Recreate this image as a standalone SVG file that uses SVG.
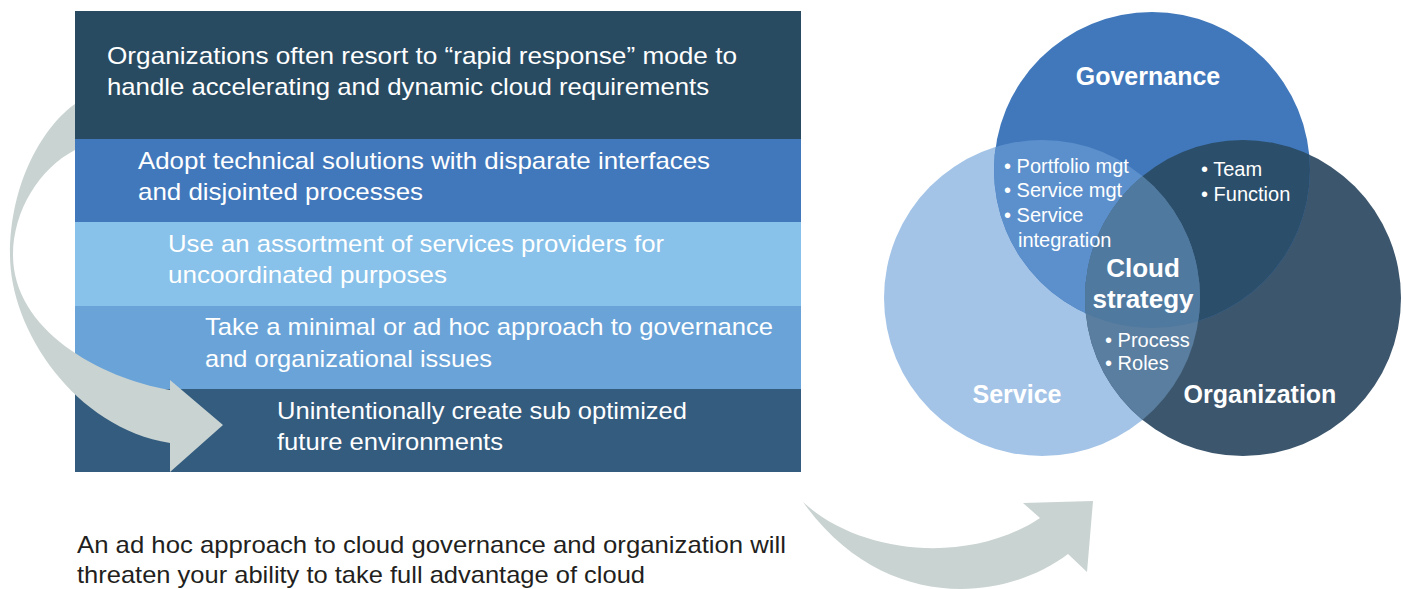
<svg xmlns="http://www.w3.org/2000/svg" width="1403" height="589" viewBox="0 0 1403 589">
<style>
.bt{font-family:"Liberation Sans",Arial,sans-serif;font-size:24px;fill:#ffffff}
.ft{font-family:"Liberation Sans",Arial,sans-serif;font-size:24px;fill:#231f20}
.vl{font-family:"Liberation Sans",Arial,sans-serif;font-size:25px;font-weight:bold;fill:#ffffff}
.cs{font-size:26px}
.vb{font-family:"Liberation Sans",Arial,sans-serif;font-size:20px;fill:#ffffff}
.arr{fill:#c9d3d1}
</style>
<defs>
<clipPath id="cGov"><circle cx="1152" cy="170" r="158"/></clipPath>
<clipPath id="cSer"><circle cx="1042" cy="298" r="158"/></clipPath>
<clipPath id="cOrg"><circle cx="1243" cy="298" r="158"/></clipPath>
</defs>

<g id="box">
<rect x="75" y="11" width="726" height="128" fill="#284b62"/>
<rect x="75" y="139" width="726" height="83" fill="#4178bb"/>
<rect x="75" y="222" width="726" height="84" fill="#88c1e9"/>
<rect x="75" y="306" width="726" height="83" fill="#69a3d8"/>
<rect x="75" y="389" width="726" height="83" fill="#335c7f"/>
</g>
<g id="band1"><text class="bt" x="107" y="64" textLength="630" lengthAdjust="spacingAndGlyphs">Organizations often resort to “rapid response” mode to</text>
<text class="bt" x="107" y="95" textLength="602" lengthAdjust="spacingAndGlyphs">handle accelerating and dynamic cloud requirements</text></g>
<g id="band2"><text class="bt" x="138" y="169" textLength="572" lengthAdjust="spacingAndGlyphs">Adopt technical solutions with disparate interfaces</text>
<text class="bt" x="138" y="200" textLength="285" lengthAdjust="spacingAndGlyphs">and disjointed processes</text></g>
<g id="band3"><text class="bt" x="168" y="252" textLength="496" lengthAdjust="spacingAndGlyphs">Use an assortment of services providers for</text>
<text class="bt" x="168" y="283" textLength="279" lengthAdjust="spacingAndGlyphs">uncoordinated purposes</text></g>
<g id="band4"><text class="bt" x="205" y="335" textLength="568" lengthAdjust="spacingAndGlyphs">Take a minimal or ad hoc approach to governance</text>
<text class="bt" x="205" y="367" textLength="287" lengthAdjust="spacingAndGlyphs">and organizational issues</text></g>
<g id="band5"><text class="bt" x="277" y="419" textLength="410" lengthAdjust="spacingAndGlyphs">Unintentionally create sub optimized</text>
<text class="bt" x="277" y="450" textLength="226" lengthAdjust="spacingAndGlyphs">future environments</text></g>

<g id="connectors">
<path class="arr" d="M 75 104 C 45 125, 10 180, 10 255 C 10 330, 75 428, 170 443 L 170 472 L 223 425 L 170 380 L 170 390 C 100 378, 13 330, 13 255 C 13 210, 40 168, 75 150 Z"/>
<path class="arr" d="M 803 502 C 860 555, 970 565, 1040 518 L 1023 503 L 1093 501 L 1087 572 L 1068 554 C 1000 605, 880 610, 803 502 Z"/>
</g>

<g id="note">
<text class="ft" x="77" y="553" textLength="709" lengthAdjust="spacingAndGlyphs">An ad hoc approach to cloud governance and organization will</text>
<text class="ft" x="77" y="583" textLength="568" lengthAdjust="spacingAndGlyphs">threaten your ability to take full advantage of cloud</text>
</g>

<g id="venn">
<circle id="service" cx="1042" cy="298" r="158" fill="#a4c4e7"/>
<circle id="organization" cx="1243" cy="298" r="158" fill="#3c566d"/>
<circle id="governance" cx="1152" cy="170" r="158" fill="#4178bb"/>
<g clip-path="url(#cGov)"><circle cx="1042" cy="298" r="158" fill="#5c90cc"/></g>
<g clip-path="url(#cGov)"><circle cx="1243" cy="298" r="158" fill="#2b4e6a"/></g>
<g clip-path="url(#cSer)"><circle cx="1243" cy="298" r="158" fill="#5a7e9f"/></g>
<g clip-path="url(#cSer)"><g clip-path="url(#cOrg)"><circle cx="1152" cy="170" r="158" fill="#4f799f"/></g></g>
</g>

<g id="labels">
<text class="vl" x="1148" y="85" text-anchor="middle">Governance</text>
<text class="vl" x="1017" y="403" text-anchor="middle">Service</text>
<text class="vl" x="1260" y="403" text-anchor="middle">Organization</text>
<text class="vl cs" x="1143" y="277" text-anchor="middle">Cloud</text>
<text class="vl cs" x="1143" y="308" text-anchor="middle">strategy</text>
<text class="vb" x="1004" y="173">• Portfolio mgt</text>
<text class="vb" x="1004" y="197">• Service mgt</text>
<text class="vb" x="1004" y="222">• Service</text>
<text class="vb" x="1018" y="247">integration</text>
<text class="vb" x="1201" y="176">• Team</text>
<text class="vb" x="1201" y="201">• Function</text>
<text class="vb" x="1105" y="347">• Process</text>
<text class="vb" x="1105" y="370">• Roles</text>
</g>
</svg>
